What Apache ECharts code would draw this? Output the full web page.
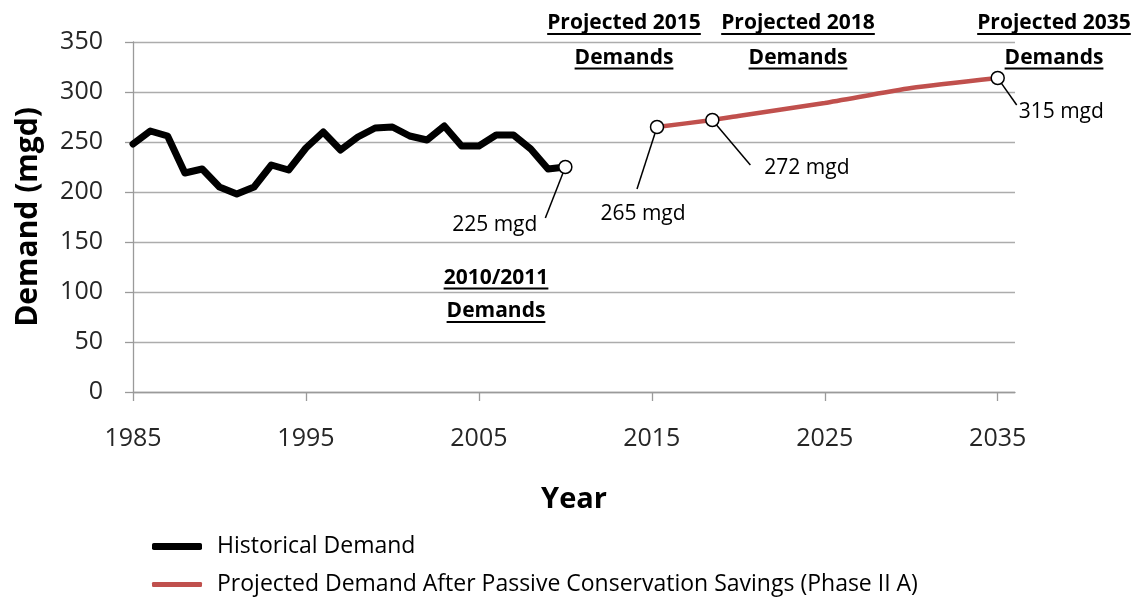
<!DOCTYPE html>
<html><head><meta charset="utf-8">
<script src="https://cdn.jsdelivr.net/npm/echarts@6/dist/echarts.min.js"></script>
<style>html,body{margin:0;padding:0;background:#fff}#c{width:1138px;height:597px}</style>
</head><body><div id="c"></div>
<script>
// ---- data ----
const histYears = [1985,1986,1987,1988,1989,1990,1991,1992,1993,1994,1995,1996,1997,1998,1999,2000,2001,2002,2003,2004,2005,2006,2007,2008,2009,2010];
const histValues = [248,261,256,219,223,205,198,205,227,222,244,260,242,255,264,265,256,252,266,246,246,257,257,243,223,225];
const projYears = [2015.3,2018.5,2020,2025,2030,2035];
const projValues = [265,272,276,289,304,314];
const annotYears = [2010,2015.3,2018.5,2035];
const annotValues = [225,265,272,314];
const annotLabels = ['225 mgd','265 mgd','272 mgd','315 mgd'];
const xTickLabels = [1985,1995,2005,2015,2025,2035];
const yTickLabels = [0,50,100,150,200,250,300,350];
const seriesNames = ['Historical Demand','Projected Demand After Passive Conservation Savings (Phase II A)'];
const noteTexts = [['Projected 2015','Demands'],['Projected 2018','Demands'],['Projected 2035','Demands'],['2010/2011','Demands']];

// ---- layout / style ----
const FONT = '"Open Sans", "DejaVu Sans", sans-serif';
const leaderStyle = [
  {end:[-20,51], label:[-28,58], align:'right'},
  {end:[-20,62], label:[-14,87], align:'center'},
  {end:[38,45], label:[52,48], align:'left'},
  {end:[19,27], label:[21,34], align:'left'}
];
const notePos = [
  {x:624, y:[23.5,58]},
  {x:798, y:[23.5,58]},
  {x:1054, y:[23.5,58]},
  {x:496, y:[278,311.5]}
];

const ctx = document.createElement('canvas').getContext('2d');
function textW(t, font){ ctx.font = font; return ctx.measureText(t).width; }

const graphics = [];
const noteFont = 'bold 21px ' + FONT;
notePos.forEach((p, i) => {
  noteTexts[i].forEach((t, j) => {
    const w = textW(t, noteFont);
    graphics.push({type:'text', x:p.x, y:p.y[j], style:{text:t, font:noteFont, fill:'#000', align:'center', verticalAlign:'middle'}});
    graphics.push({type:'rect', shape:{x:p.x - w/2, y:p.y[j] + 9.5, width:w, height:2}, style:{fill:'#000'}});
  });
});

const chart = echarts.init(document.getElementById('c'));
chart.setOption({
  animation:false,
  backgroundColor:'#fff',
  grid:{left:133, right:123, top:42, bottom:205, containLabel:false},
  xAxis:{
    type:'value', min:1985, max:2036,
    name:'Year', nameLocation:'middle', nameGap:93,
    nameTextStyle:{fontFamily:FONT, fontWeight:'bold', fontSize:29, color:'#000'},
    axisLine:{show:true, lineStyle:{color:'#9a9a9a', width:1.3}},
    axisTick:{show:true, length:9, lineStyle:{color:'#9a9a9a', width:1.3}, customValues:xTickLabels},
    axisLabel:{fontFamily:FONT, fontSize:25, color:'#262626', margin:34, customValues:xTickLabels, formatter:v=>String(v)},
    splitLine:{show:false}
  },
  yAxis:{
    type:'value', min:0, max:350, interval:50,
    name:'Demand (mgd)', nameLocation:'middle', nameGap:90,
    nameTextStyle:{fontFamily:FONT, fontWeight:'bold', fontSize:30, color:'#000'},
    axisLine:{show:true, lineStyle:{color:'#9a9a9a', width:1.3}},
    axisTick:{show:true, inside:false, length:8, lineStyle:{color:'#9a9a9a', width:1.3}},
    axisLabel:{fontFamily:FONT, fontSize:25, color:'#262626', margin:30, formatter:v=>yTickLabels.includes(v)?String(v):''},
    splitLine:{show:true, lineStyle:{color:'#acacac', width:1.3}}
  },
  legend:[
    {data:[seriesNames[0]], orient:'vertical', left:147, top:530, itemWidth:50, itemHeight:7, icon:'roundRect',
     textStyle:{fontFamily:FONT, fontSize:23, color:'#000', padding:[0,0,0,10]}},
    {data:[seriesNames[1]], orient:'vertical', left:147, top:568, itemWidth:50, itemHeight:5, icon:'roundRect',
     textStyle:{fontFamily:FONT, fontSize:23, color:'#000', padding:[0,0,0,10]}}
  ],
  series:[
    {name:seriesNames[0], type:'line', data:histYears.map((y,i)=>[y,histValues[i]]), symbol:'none',
     itemStyle:{color:'#000'}, lineStyle:{color:'#000', width:7, join:'round', cap:'round'}, z:3},
    {name:seriesNames[1], type:'line', data:projYears.map((y,i)=>[y,projValues[i]]), symbol:'none', smooth:0.2,
     itemStyle:{color:'#c0504d'}, lineStyle:{color:'#c0504d', width:4.5, cap:'round'}, z:3},
    {type:'custom', clip:false, z:10, silent:true,
     data:annotYears.map((y,i)=>[y,annotValues[i]]), encode:{x:0,y:1},
     renderItem:function(params, api){
       const i = params.dataIndex;
       const p = api.coord([api.value(0), api.value(1)]);
       const s = leaderStyle[i];
       const dx = s.end[0], dy = s.end[1], len = Math.hypot(dx,dy), r = 6.5;
       return {type:'group', children:[
         {type:'line', shape:{x1:p[0]+dx/len*r, y1:p[1]+dy/len*r, x2:p[0]+dx, y2:p[1]+dy}, style:{stroke:'#000', lineWidth:1.5}},
         {type:'circle', shape:{cx:p[0], cy:p[1], r:r}, style:{fill:'#fff', stroke:'#000', lineWidth:1.5}},
         {type:'text', x:p[0]+s.label[0], y:p[1]+s.label[1], style:{text:annotLabels[i], font:'21px ' + FONT, fill:'#000', align:s.align, verticalAlign:'middle'}}
       ]};
     }}
  ],
  graphic:graphics
});
</script></body></html>
